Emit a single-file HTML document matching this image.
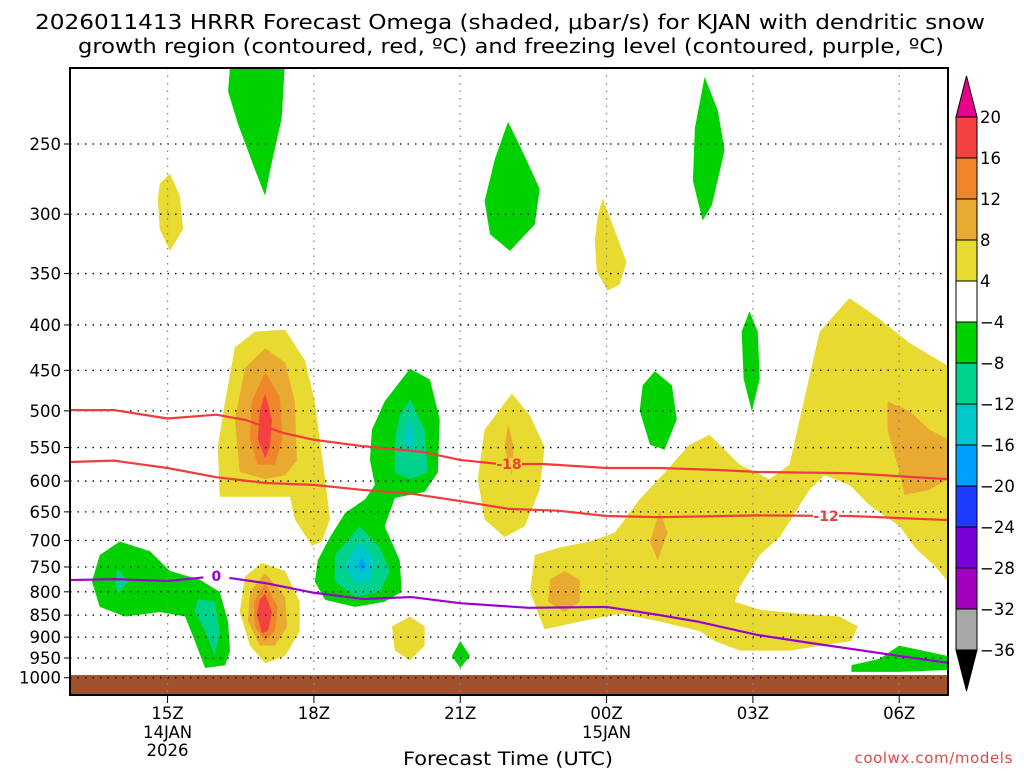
<!DOCTYPE html>
<html><head><meta charset="utf-8"><style>
body{margin:0;background:#fff;width:1024px;height:768px;overflow:hidden}
svg{font-family:"DejaVu Sans","Liberation Sans",sans-serif}
</style></head><body>
<svg id="c" width="1024" height="768">
<text x="35" y="29" font-size="20" textLength="950" lengthAdjust="spacingAndGlyphs">2026011413 HRRR Forecast Omega (shaded, μbar/s) for KJAN with dendritic snow</text>
<text x="78" y="53" font-size="20" textLength="866" lengthAdjust="spacingAndGlyphs">growth region (contoured, red, ºC) and freezing level (contoured, purple, ºC)</text>
<text x="403" y="765" font-size="19" textLength="210" lengthAdjust="spacingAndGlyphs">Forecast Time (UTC)</text>
<text x="1013" y="763" font-size="15" fill="#e04848" text-anchor="end" letter-spacing="0.6">coolwx.com/models</text>
<g id="plot"></g>
<g id="cbar"></g>
</svg>
<script>
// ---- data ----
const pLevels=[250,300,350,400,450,500,550,600,650,700,750,800,850,900,950,1000];
const timeHours=[15,18,21,24,27,30];
const timeLabels=["15Z","18Z","21Z","00Z","03Z","06Z"];
const cbLevels=[20,16,12,8,4,-4,-8,-12,-16,-20,-24,-28,-32,-36];
const cbColors=["#f44242","#f0862c","#e8aa30","#e8da30","#ffffff","#00d200","#00d28c","#00c8c8","#00a0ff","#1e3cff","#7800d8","#a000c0","#a8a8a8"];
const dsgHours=[13,13.9,15,16,16.6,17.4,18,19,20.2,21,21.8,22.7,24,25.1,26.3,27.1,29,31];
const dsgTopP=[499,499,510,505,512,530,539,548,556,568,574,574,580,580,583,586,588,597];
const dsgBotHours=[13,13.9,15,16,17,18,19,20,21,22,23,24,25.1,27.1,29,31];
const dsgBotP=[571,569,580,594,603,606,614,620,632,645,648,657,659,656,657,664];
const frzHours=[13,13.9,15,16,17,18,19,20,21,22.4,24,25.1,25.9,27.1,28.2,29.2,30,31];
const frzP=[776,774,778,768,782,802,815,811,824,834,832,850,865,895,914,931,945,962];
const Y="#e8da30",G="#e8aa30",O="#f0862c",R="#f44242",GR="#00d200",T="#00d28c",C="#00c8c8",B="#00a0ff";
const blobs=[
[Y,[[22.53,727],[23.04,713],[23.66,702],[24.17,686],[24.68,629],[25.19,587],[25.7,546],[26.11,532],[26.73,575],[27.34,597],[27.75,575],[27.96,511],[28.37,407],[28.98,373],[29.6,394],[30.21,419],[31,445],[31,779],[30.73,748],[30.32,713],[30.01,675],[29.39,639],[28.98,606],[28.47,591],[28.16,614],[27.96,639],[27.55,694],[27.14,727],[26.73,790],[26.63,821],[27.14,838],[27.96,847],[28.78,853],[29.15,875],[29.02,909],[27.75,932],[26.73,932],[26.22,909],[25.91,886],[25.09,864],[24.27,847],[23.45,864],[22.73,882],[22.59,843],[22.43,800]]],
[G,[[29.76,488],[30.21,500],[30.62,525],[31,538],[31,597],[30.62,614],[30.11,622],[30.01,587],[29.76,525]]],
[G,[[23.14,758],[23.45,775],[23.45,821],[23.14,843],[22.8,821],[22.84,775]]],
[G,[[25.09,648],[25.25,686],[25.05,737],[24.89,702]]],
[Y,[[14.84,277],[15.05,270],[15.25,286],[15.32,312],[15.05,330],[14.84,312],[14.8,289]]],
[Y,[[23.92,288],[24.17,313],[24.41,340],[24.27,360],[24.02,366],[23.8,348],[23.76,321],[23.82,301]]],
[Y,[[16.79,407],[17.41,405],[17.82,439],[18.02,488],[18.12,538],[18.23,597],[18.33,663],[18.16,702],[17.96,710],[17.61,663],[17.51,625],[16.79,625],[16.07,625],[16.03,549],[16.18,488],[16.38,424]]],
[G,[[17.0,425],[17.41,441],[17.61,488],[17.65,569],[17.41,591],[17.0,597],[16.48,586],[16.38,511],[16.59,447]]],
[O,[[17.0,452],[17.3,482],[17.36,538],[17.2,575],[16.85,575],[16.69,538],[16.73,488]]],
[R,[[17.0,478],[17.14,511],[17.1,549],[17.0,565],[16.85,538],[16.89,500]]],
[Y,[[16.93,742],[17.41,758],[17.71,821],[17.71,886],[17.41,945],[17.0,963],[16.69,920],[16.48,843],[16.59,769]]],
[G,[[17.0,762],[17.41,810],[17.45,875],[17.2,920],[16.89,920],[16.65,864],[16.69,800]]],
[O,[[17.0,782],[17.26,832],[17.2,886],[17.0,909],[16.79,875],[16.77,821]]],
[R,[[17.0,804],[17.14,843],[17.06,886],[16.93,891],[16.83,848],[16.89,817]]],
[Y,[[19.97,853],[20.27,875],[20.27,920],[19.97,956],[19.66,932],[19.6,875]]],
[Y,[[22.06,478],[22.43,506],[22.73,549],[22.63,614],[22.32,675],[21.91,694],[21.5,663],[21.36,597],[21.5,525]]],
[G,[[21.98,518],[22.1,549],[22.06,591],[21.91,549]]],
[GR,[[16.28,205],[17.4,205],[17.34,234],[17.1,268],[17.0,286],[16.8,268],[16.44,237],[16.24,218]]],
[GR,[[21.98,236],[22.22,251],[22.63,281],[22.53,308],[22.02,330],[21.61,316],[21.5,290],[21.71,260]]],
[GR,[[26.01,210],[26.28,229],[26.42,254],[26.16,293],[25.97,305],[25.77,275],[25.81,240]]],
[GR,[[26.93,386],[27.1,407],[27.14,460],[26.98,501],[26.81,460],[26.77,407]]],
[GR,[[24.99,451],[25.34,468],[25.44,511],[25.19,553],[24.89,546],[24.68,500],[24.74,468]]],
[GR,[[14.02,702],[14.64,720],[15.05,758],[15.66,775],[16.07,800],[16.24,864],[16.28,932],[16.18,968],[15.77,975],[15.56,909],[15.36,853],[14.84,843],[14.13,853],[13.61,832],[13.45,779],[13.61,727]]],
[T,[[15.62,815],[15.97,821],[16.07,886],[15.97,945],[15.77,886],[15.56,843]]],
[T,[[13.98,754],[14.19,779],[13.98,804],[13.92,779]]],
[GR,[[18.64,652],[19.05,629],[19.25,606],[19.15,568],[19.19,525],[19.45,488],[19.97,448],[20.38,461],[20.58,511],[20.54,587],[20.27,617],[19.66,627],[19.45,675],[19.76,737],[19.8,800],[19.45,821],[18.84,832],[18.23,817],[18.02,779],[18.08,737],[18.33,694]]],
[T,[[19.97,485],[20.27,525],[20.34,587],[19.97,597],[19.66,587],[19.66,538],[19.76,506]]],
[C,[[19.97,506],[20.07,538],[19.97,556],[19.84,538]]],
[T,[[18.94,675],[19.35,713],[19.56,758],[19.35,800],[18.84,810],[18.43,779],[18.43,727]]],
[C,[[18.98,702],[19.25,737],[19.15,779],[18.84,782],[18.64,748],[18.79,721]]],
[B,[[18.98,730],[19.07,748],[18.98,760],[18.9,748]]],
[GR,[[21.0,909],[21.2,945],[21.0,975],[20.83,945]]],
[GR,[[30.0,920],[31,945],[31,980],[30.0,985],[29.02,985],[29.02,968],[29.6,952]]]
];
// ---- axes ----
const L=70,Rt=948,Tp=68,Bt=695;
const x=h=>L+(h-13)*(Rt-L)/18;
const y=p=>144+385*Math.log(p/250);
const NS="http://www.w3.org/2000/svg";
function mk(tag,at,parent){const e=document.createElementNS(NS,tag);for(const k in at)e.setAttribute(k,at[k]);parent.appendChild(e);return e;}
const plot=document.getElementById('plot');
const cp=mk('clipPath',{id:'clp'},plot);
mk('rect',{x:L,y:Tp,width:Rt-L,height:Bt-Tp},cp);
const g=mk('g',{'clip-path':'url(#clp)'},plot);
blobs.forEach((b,i)=>{
 const e=mk('polygon',{points:b[1].map(q=>x(q[0])+','+y(q[1])).join(' '),fill:b[0],'stroke-linejoin':'round'},g);
 
 
});
const gr=mk('rect',{x:L,y:y(993),width:Rt-L,height:Bt-y(993),fill:'#a0522d'},g);


pLevels.forEach(p=>{
 const ln=mk('line',{x1:L,x2:Rt,y1:y(p),y2:y(p),stroke:'#000','stroke-width':1.3,'stroke-dasharray':'1.5,6'},g);
 
 
 const t=mk('text',{x:61,y:y(p)+6,'font-size':16.5,'text-anchor':'end'},plot);t.textContent=p;
 
 
 mk('line',{x1:L-6,x2:L,y1:y(p),y2:y(p),stroke:'#000'},plot);
});
timeHours.forEach((h,i)=>{
 const ln=mk('line',{x1:x(h),x2:x(h),y1:Tp,y2:Bt,stroke:'#888','stroke-width':1.3,'stroke-dasharray':'1.5,6'},g);
 
 
 mk('line',{x1:x(h),x2:x(h),y1:Bt,y2:Bt+8,stroke:'#000'},plot);
 const t=mk('text',{x:x(h),y:719,'font-size':16.5,'text-anchor':'middle'},plot);t.textContent=timeLabels[i];
 
 
});
[[15,"14JAN","2026"],[24,"15JAN",""]].forEach(d=>{
 const t1=mk('text',{x:x(d[0]),y:738,'font-size':16.5,'text-anchor':'middle'},plot);t1.textContent=d[1];
 
 
 if(d[2]){const t2=mk('text',{x:x(d[0]),y:756,'font-size':16.5,'text-anchor':'middle'},plot);t2.textContent=d[2];
 
 }
});
function line(hs,ps,col,name){
 const e=mk('polyline',{points:hs.map((h,i)=>x(h)+','+y(ps[i])).join(' '),fill:'none',stroke:col,'stroke-width':2.2,'stroke-linejoin':'round'},g);
 
 
}
line(dsgHours,dsgTopP,'#f03c3c','minus-18-contour');
line(dsgBotHours,dsgBotP,'#f03c3c','minus-12-contour');
line(frzHours,frzP,'#9a00d0','freezing-level-contour');
function clabel(h,p,txt,col,name,bg){
 mk('rect',{x:x(h)-13,y:y(p)-6,width:26,height:12,fill:bg},plot);
 const t=mk('text',{x:x(h),y:y(p)+5,'font-size':14,'font-weight':'bold',fill:col,'text-anchor':'middle'},plot);t.textContent=txt;
 
 
}
clabel(22.0,574,'-18','#f03c3c','contour-label-minus-18','#e8da30');
clabel(28.5,657,'-12','#f03c3c','contour-label-minus-12','#ffffff');
clabel(16.0,768,'0','#9a00d0','contour-label-zero','#ffffff');
const fr=mk('rect',{x:L,y:Tp,width:Rt-L,height:Bt-Tp,fill:'none',stroke:'#000','stroke-width':2},plot);


// colorbar
const cb=document.getElementById('cbar');
const cx0=956,cw=21;
const cyi=i=>117+i*41;
for(let i=0;i<cbColors.length;i++){
 const r=mk('rect',{x:cx0,y:cyi(i),width:cw,height:41,fill:cbColors[i],stroke:'#000','stroke-width':1},cb);
 
 
}
const tu=mk('polygon',{points:`${cx0},117 ${cx0+cw},117 ${cx0+cw/2},76`,fill:'#e8008c',stroke:'#000'},cb);


const td=mk('polygon',{points:`${cx0},650 ${cx0+cw},650 ${cx0+cw/2},691`,fill:'#000',stroke:'#000'},cb);


cbLevels.forEach((v,i)=>{
 const t=mk('text',{x:980,y:cyi(i)+6,'font-size':16.5},cb);t.textContent=v<0?'\u2212'+(-v):v;
 
 
});
</script>
</body></html>
